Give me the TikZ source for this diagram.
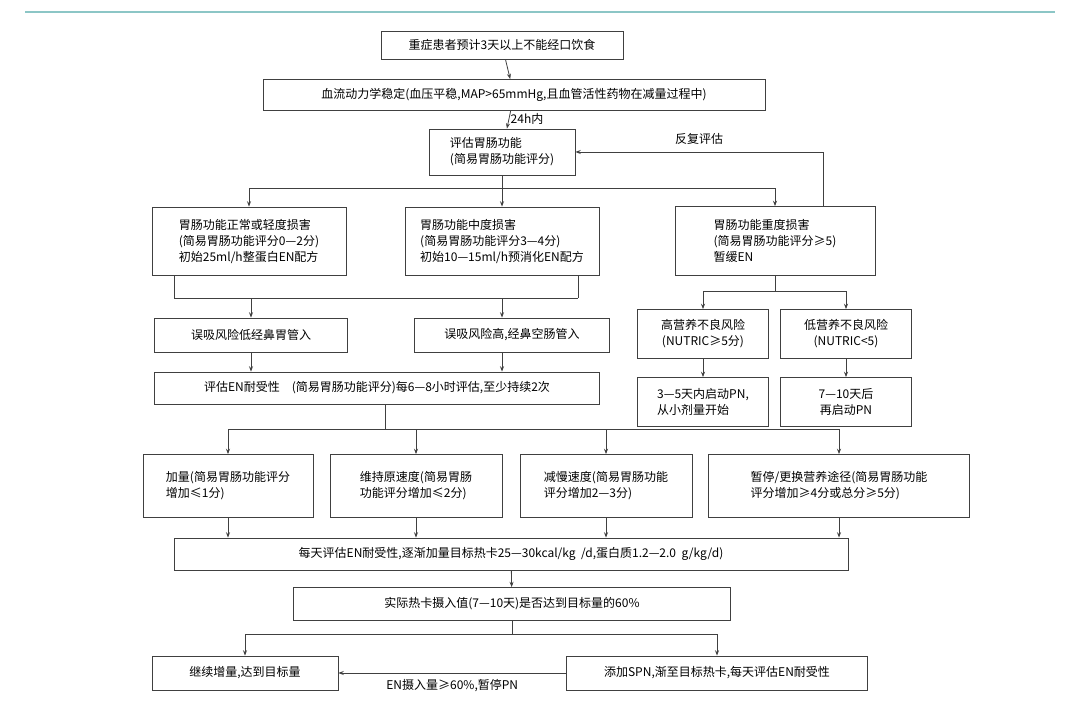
\documentclass[tikz,border=0pt]{standalone}
\usepackage{fontspec}
\setmainfont{Noto Sans CJK SC}
\usetikzlibrary{arrows.meta}

\tikzset{
  box/.style 2 args={draw=black!75, line width=0.6pt, inner sep=2pt,
    minimum width=#1*0.75pt, minimum height=#2*0.75pt,
    font=\fontsize{9}{12}\selectfont},
  flow/.style={draw=black!75, line width=0.6pt, -{Stealth[length=4pt,width=3pt]}},
  wire/.style={draw=black!75, line width=0.6pt},
  note/.style={font=\fontsize{9}{12}\selectfont}
}

\begin{document}
\begin{tikzpicture}[x=0.75pt,y=-0.75pt]
  \useasboundingbox (0,0) rectangle (1080,705);
  \draw[teal!45, line width=1pt] (25,12) -- (1055,12);

  % top chain
  \node[box={242}{28}] (onset) at (502,45) {重症患者预计3天以上不能经口饮食};
  \node[box={502}{31}] (haemo) at (514,95) {血流动力学稳定(血压平稳,MAP>65mmHg,且血管活性药物在减量过程中)};
  \node[box={146}{46},align=left] (assess) at (502,152) {评估胃肠功能\\(简易胃肠功能评分)};

  % three grades
  \node[box={194}{68},align=left] (mild) at (249,241) {胃肠功能正常或轻度损害\\(简易胃肠功能评分0—2分)\\初始25ml/h整蛋白EN配方};
  \node[box={194}{68},align=left] (mid) at (502,241) {胃肠功能中度损害\\(简易胃肠功能评分3—4分)\\初始10—15ml/h预消化EN配方};
  \node[box={200}{69},align=left] (severe) at (775,241) {胃肠功能重度损害\\(简易胃肠功能评分≥5)\\暂缓EN};

  % routes
  \node[box={193}{34}] (lowrisk) at (251,335) {误吸风险低经鼻胃管入};
  \node[box={195}{34}] (highrisk) at (512,335) {误吸风险高,经鼻空肠管入};
  \node[box={445}{32}] (toler) at (377,388) {评估EN耐受性\quad(简易胃肠功能评分)每6—8小时评估,至少持续2次};

  % NUTRIC
  \node[box={131}{49},align=center] (hinut) at (703,334) {高营养不良风险\\(NUTRIC≥5分)};
  \node[box={131}{49},align=center] (lonut) at (846,334) {低营养不良风险\\(NUTRIC<5)};
  \node[box={131}{49},align=left] (hipn) at (703,402) {3—5天内启动PN,\\从小剂量开始};
  \node[box={131}{49},align=center] (lopn) at (846,402) {7—10天后\\再启动PN};

  % rate changes
  \node[box={170}{63},align=left] (incr) at (228,486) {加量(简易胃肠功能评分\\增加≤1分)};
  \node[box={172}{63},align=left] (keep) at (416,486) {维持原速度(简易胃肠\\功能评分增加≤2分)};
  \node[box={172}{63},align=left] (slow) at (606,486) {减慢速度(简易胃肠功能\\评分增加2—3分)};
  \node[box={261}{63},align=left] (stop) at (839,486) {暂停/更换营养途径(简易胃肠功能\\评分增加≥4分或总分≥5分)};

  % bottom chain
  \node[box={674}{32}] (daily) at (511,554) {每天评估EN耐受性,逐渐加量目标热卡25—30kcal/kg\ \ /d,蛋白质1.2—2.0\ \ g/kg/d)};
  \node[box={437}{33}] (reach) at (512,604) {实际热卡摄入值(7—10天)是否达到目标量的60\%};
  \node[box={186}{34}] (cont) at (245,673) {继续增量,达到目标量};
  \node[box={301}{34}] (spn) at (717,673) {添加SPN,渐至目标热卡,每天评估EN耐受性};

  % connectors
  \draw[flow] (onset) -- (haemo);
  \draw[flow] (haemo) -- (assess) node[note,pos=0.45,right,inner sep=1pt] {24h内};
  \draw[wire] (assess.south) -- ++(0,13) coordinate (split1);
  \draw[flow] (split1) -| (mild.north);
  \draw[flow] (split1) -- (mid.north);
  \draw[flow] (split1) -| (severe.north);
  \draw[flow] ([xshift=36pt]severe.north) |- (assess.east) node[note,pos=0.75,above=2pt] {反复评估};

  \draw[wire] ([xshift=17pt]mild.south west) -- ++(0,23) coordinate (join1);
  \draw[wire] ([xshift=-16pt]mid.south east) -- ++(0,23) coordinate (join2);
  \draw[wire] (join1) -- (join2);
  \draw[flow] (join1 -| lowrisk.north) -- (lowrisk.north);
  \draw[flow] (join1 -| mid.south) -- (mid.south |- highrisk.north);
  \draw[flow] (lowrisk) -- (lowrisk |- toler.north);
  \draw[flow] (mid.south |- highrisk.south) -- (mid.south |- toler.north);

  \draw[wire] (severe.south) -- ++(0,16) coordinate (split2);
  \draw[flow] (split2) -| (hinut.north);
  \draw[flow] (split2) -| (lonut.north);
  \draw[flow] (hinut) -- (hipn);
  \draw[flow] (lonut) -- (lopn);

  \draw[wire] ([xshift=6pt]toler.south) -- ++(0,25) coordinate (split3);
  \draw[wire] (split3 -| incr.north) -- (split3 -| stop.north);
  \foreach \n in {incr,keep,slow,stop} {
    \draw[flow] (split3 -| \n.north) -- (\n.north);
    \draw[flow] (\n.south) -- (\n.south |- daily.north);
  }

  \draw[flow] (daily) -- (reach);
  \draw[wire] (reach.south) -- ++(0,13) coordinate (split4);
  \draw[flow] (split4) -| (cont.north);
  \draw[flow] (split4) -| (spn.north);
  \draw[flow] (spn) -- (cont) node[note,midway,below=1pt] {EN摄入量≥60\%,暂停PN};
\end{tikzpicture}
\end{document}
